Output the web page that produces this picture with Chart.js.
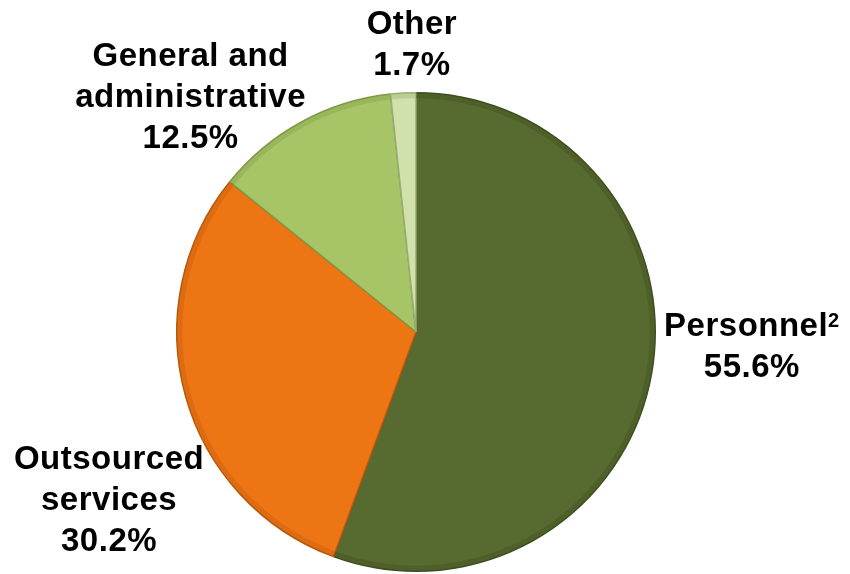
<!DOCTYPE html>
<html>
<head>
<meta charset="utf-8">
<script src="https://cdn.jsdelivr.net/npm/chart.js@4"></script>
<style>
  html, body { margin: 0; padding: 0; background: #ffffff; }
  #wrap { width: 850px; height: 574px; position: relative; }
</style>
</head>
<body>
<div id="wrap"><canvas id="pieChart" width="850" height="574"></canvas></div>
<script>
// Data
const categories = ['Personnel', 'Outsourced services', 'General and administrative', 'Other'];
const shares = [55.6, 30.2, 12.5, 1.7];
const sliceColors = ['#576a2f', '#ee7514', '#a7c566', '#d0e1ac'];
const edgeColors = ['#3f4e20', '#b9580c', '#7f9a45', '#98ad72'];

// Label text lines and where they sit (relative to pie centre, in radii)
const labelLines = [
    [['Personnel', '2'], ['55.6%']],
    [['Outsourced'], ['services'], ['30.2%']],
    [['General and'], ['administrative'], ['12.5%']],
    [['Other'], ['1.7%']]
];
const labelAnchors = [
    { dx: 1.404, dy: 0.065 },
    { dx: -1.283, dy: 0.704 },
    { dx: -0.942, dy: -0.979 },
    { dx: -0.017, dy: -1.196 }
];

const mainFont = 'bold 33px "Liberation Sans", Arial, sans-serif';
const supFont = 'bold 20px "Liberation Sans", Arial, sans-serif';

const labelPlugin = {
    id: 'sliceLabels',
    afterDatasetsDraw(chart) {
        const ctx = chart.ctx;
        const meta = chart.getDatasetMeta(0);
        const lineH = 41;
        ctx.save();
        ctx.fillStyle = '#000';
        ctx.textBaseline = 'middle';
        ctx.textAlign = 'left';
        ctx.letterSpacing = '0.5px';
        meta.data.forEach((arc, i) => {
            const r = arc.outerRadius;
            const cx = arc.x + labelAnchors[i].dx * r;
            const cy = arc.y + labelAnchors[i].dy * r;
            const lines = labelLines[i];
            const top = cy - (lines.length - 1) * lineH / 2;
            lines.forEach((parts, j) => {
                const y = top + j * lineH;
                ctx.font = mainFont;
                const mainW = ctx.measureText(parts[0]).width;
                let supW = 0;
                if (parts[1]) {
                    ctx.font = supFont;
                    supW = ctx.measureText(parts[1]).width;
                }
                const startX = cx - (mainW + supW) / 2;
                ctx.font = mainFont;
                ctx.fillText(parts[0], startX, y);
                if (parts[1]) {
                    ctx.font = supFont;
                    ctx.fillText(parts[1], startX + mainW, y - 6);
                }
            });
        });
        ctx.restore();
    }
};

// Soft bevel: darker rim drawn inside each slice
const bevelPlugin = {
    id: 'bevel',
    afterDatasetsDraw(chart) {
        const ctx = chart.ctx;
        const meta = chart.getDatasetMeta(0);
        ctx.save();
        meta.data.forEach((arc, i) => {
            ctx.beginPath();
            ctx.arc(arc.x, arc.y, arc.outerRadius - 3, arc.startAngle, arc.endAngle);
            ctx.strokeStyle = edgeColors[i];
            ctx.globalAlpha = 0.35;
            ctx.lineWidth = 5;
            ctx.stroke();
        });
        ctx.restore();
    }
};

const ctx = document.getElementById('pieChart').getContext('2d');
new Chart(ctx, {
    type: 'pie',
    data: {
        labels: categories,
        datasets: [{
            data: shares,
            backgroundColor: sliceColors,
            borderColor: edgeColors,
            borderWidth: 1.5
        }]
    },
    options: {
        responsive: false,
        animation: false,
        layout: { padding: { top: 92, bottom: 2, left: 176, right: 194 } },
        plugins: {
            legend: { display: false },
            tooltip: { enabled: false }
        }
    },
    plugins: [bevelPlugin, labelPlugin]
});
</script>
</body>
</html>
